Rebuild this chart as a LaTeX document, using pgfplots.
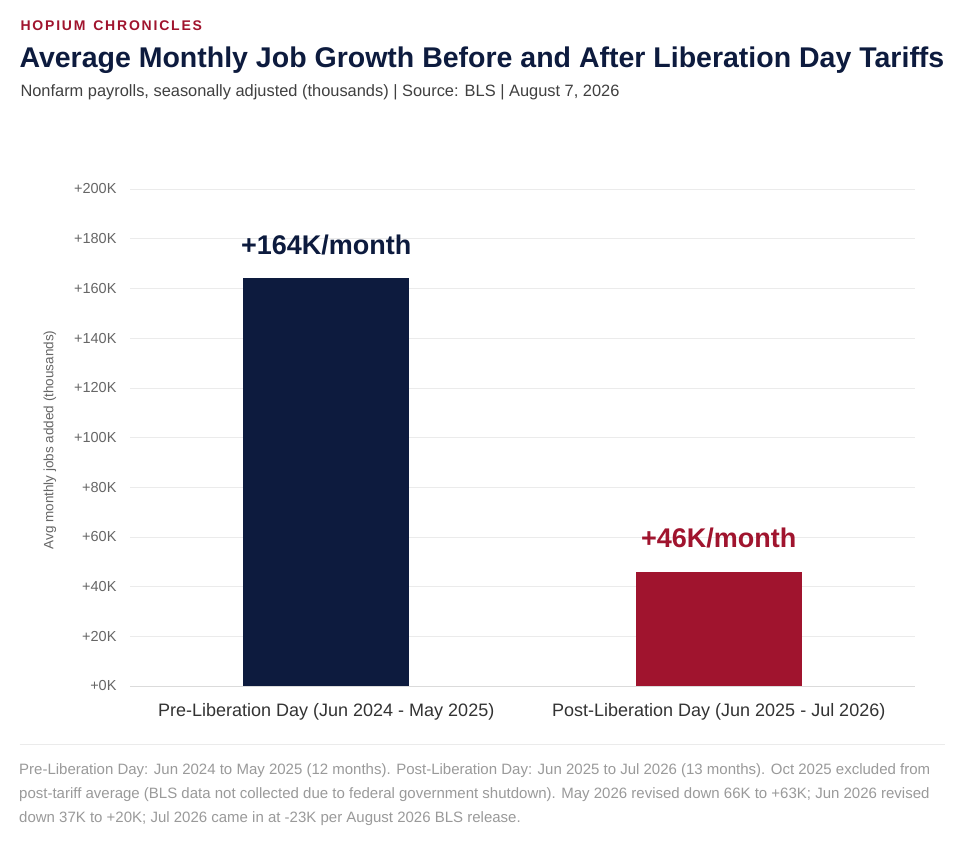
\documentclass[border=0pt]{standalone}
\usepackage{pgfplots}
\pgfplotsset{compat=1.18}
\usepackage{fontspec}
\setmainfont{Liberation Sans}
\definecolor{navy}{HTML}{0D1B3E}
\definecolor{crim}{HTML}{A0142E}
\definecolor{gridc}{HTML}{EBEBEB}
\definecolor{tickc}{HTML}{666666}
\definecolor{footc}{HTML}{9A9A9A}
\begin{document}
\begin{tikzpicture}[x=1pt,y=1pt]
\path[use as bounding box,fill=white] (-130,-168) rectangle (843,686);
\begin{axis}[at={(0,0)},anchor=origin,scale only axis,width=785pt,height=497pt,
  xmin=0,xmax=2,ymin=0,ymax=200,
  ytick={0,20,...,200},yticklabels={+0K,+20K,+40K,+60K,+80K,+100K,+120K,+140K,+160K,+180K,+200K},
  xtick={0.5,1.5},xticklabels={Pre-Liberation Day (Jun 2024 - May 2025),Post-Liberation Day (Jun 2025 - Jul 2026)},
  x tick label style={font=\fontsize{18}{21}\selectfont,text=black!80,yshift=-14pt},
  y tick label style={font=\fontsize{14.5}{16}\selectfont,text=tickc,xshift=-10pt},
  ymajorgrids,grid style={gridc},
  axis line style={draw=none},axis x line*=bottom,
  x axis line style={draw=gridc!70!black!40,line width=1pt},
  major tick length=0pt,
  ybar,bar width=166pt,bar shift=0pt,
  nodes near coords,point meta=explicit symbolic,
  every node near coord/.append style={font=\bfseries\fontsize{27}{32}\selectfont,yshift=20pt},
]
\addplot[fill=navy,draw=none,every node near coord/.append style={text=navy}] coordinates {(0.5,164) [+164K/month]};
\addplot[fill=crim,draw=none,every node near coord/.append style={text=crim}] coordinates {(1.5,46) [+46K/month]};
\end{axis}
\node[rotate=90,text=tickc,font=\fontsize{13.5}{15}\selectfont] at (-80,246) {Avg monthly jobs added (thousands)};
\node[anchor=west,text=crim,font=\bfseries\fontsize{14}{16}\selectfont] at (-113,660) {H\kern1.8pt O\kern1.8pt P\kern1.8pt I\kern1.8pt U\kern1.8pt M\ \ C\kern1.8pt H\kern1.8pt R\kern1.8pt O\kern1.8pt N\kern1.8pt I\kern1.8pt C\kern1.8pt L\kern1.8pt E\kern1.8pt S};
\node[anchor=west,text=navy,font=\bfseries\fontsize{28.5}{33}\selectfont] at (-114,626) {Average Monthly Job Growth Before and After Liberation Day Tariffs};
\node[anchor=west,text=black!75,font=\fontsize{16.4}{19}\selectfont] at (-113,594) {Nonfarm payrolls, seasonally adjusted (thousands) | Source: BLS | August 7, 2026};
\draw[gridc,line width=1pt] (-110,-58) -- (815,-58);
\node[anchor=north west,text=footc,align=left,font=\fontsize{15}{24}\selectfont,inner sep=0pt] at (-111,-77) {Pre-Liberation Day: Jun 2024 to May 2025 (12 months). Post-Liberation Day: Jun 2025 to Jul 2026 (13 months). Oct 2025 excluded from\\post-tariff average (BLS data not collected due to federal government shutdown). May 2026 revised down 66K to +63K; Jun 2026 revised\\down 37K to +20K; Jul 2026 came in at -23K per August 2026 BLS release.};
\end{tikzpicture}
\end{document}
